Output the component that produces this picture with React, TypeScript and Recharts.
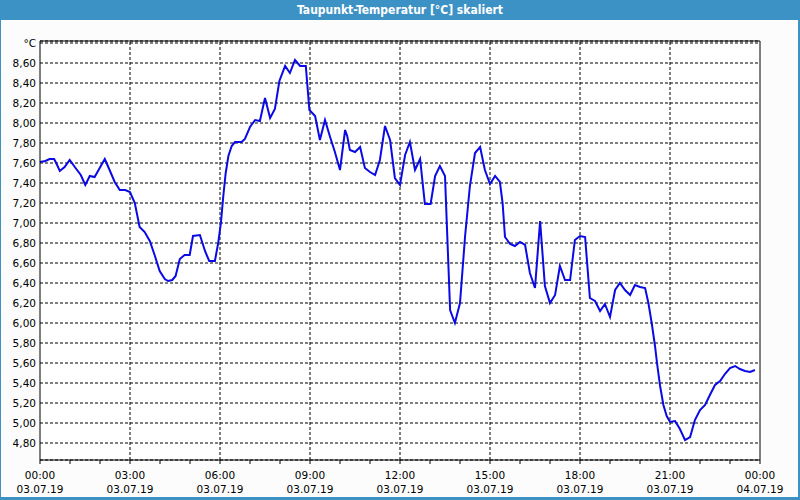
import { LineChart, Line, XAxis, YAxis, CartesianGrid, ReferenceLine } from 'recharts';

const hours = [
  0, 0.18, 0.32, 0.47, 0.54, 0.66, 0.82, 0.99, 1.16, 1.36, 1.51, 1.66, 1.82, 1.99, 2.16, 2.32, 2.49, 2.66, 2.84, 3.0,
  3.16, 3.32, 3.49, 3.66, 3.82, 3.99, 4.16, 4.27, 4.41, 4.52, 4.66, 4.82, 4.99, 5.1, 5.33, 5.5, 5.64, 5.83, 5.94, 6.03,
  6.11, 6.19, 6.28, 6.39, 6.5, 6.72, 6.83, 7.0, 7.17, 7.33, 7.5, 7.67, 7.83, 7.98, 8.17, 8.33, 8.5, 8.67, 8.86, 8.98,
  9.17, 9.33, 9.5, 9.67, 9.83, 10.0, 10.17, 10.24, 10.33, 10.5, 10.67, 10.83, 11.0, 11.17, 11.33, 11.5, 11.67, 11.83, 12.0, 12.17,
  12.33, 12.5, 12.67, 12.83, 13.02, 13.17, 13.33, 13.5, 13.67, 13.83, 14.0, 14.17, 14.33, 14.5, 14.67, 14.83, 15.0, 15.17, 15.33, 15.42,
  15.5, 15.67, 15.83, 16.0, 16.17, 16.33, 16.5, 16.67, 16.83, 17.0, 17.17, 17.33, 17.5, 17.67, 17.83, 18.0, 18.17, 18.33, 18.5, 18.67,
  18.83, 19.0, 19.17, 19.33, 19.5, 19.67, 19.83, 20.0, 20.17, 20.28, 20.39, 20.5, 20.58, 20.67, 20.78, 20.89, 21.0, 21.17, 21.33, 21.5,
  21.67, 21.83, 22.0, 22.17, 22.33, 22.5, 22.67, 22.83, 23.0, 23.17, 23.33, 23.5, 23.67, 23.83,
];

const dewPoint = [
  7.61, 7.62, 7.64, 7.64, 7.6, 7.52, 7.56, 7.63, 7.56, 7.48, 7.38, 7.47, 7.46, 7.55, 7.64, 7.53, 7.41, 7.33, 7.33, 7.31,
  7.2, 6.96, 6.91, 6.82, 6.68, 6.52, 6.44, 6.42, 6.43, 6.47, 6.64, 6.68, 6.68, 6.87, 6.88, 6.72, 6.62, 6.62, 6.8, 7.0,
  7.27, 7.5, 7.67, 7.77, 7.81, 7.81, 7.84, 7.96, 8.03, 8.02, 8.25, 8.05, 8.14, 8.42, 8.57, 8.5, 8.63, 8.57, 8.57, 8.13,
  8.07, 7.83, 8.03, 7.86, 7.71, 7.53, 7.93, 7.87, 7.73, 7.71, 7.76, 7.55, 7.51, 7.48, 7.63, 7.97, 7.83, 7.45, 7.38, 7.68,
  7.81, 7.53, 7.64, 7.19, 7.19, 7.47, 7.57, 7.47, 6.13, 6.0, 6.2, 6.87, 7.37, 7.7, 7.76, 7.53, 7.39, 7.47, 7.41, 7.2,
  6.86, 6.79, 6.77, 6.81, 6.78, 6.5, 6.35, 7.02, 6.37, 6.2, 6.28, 6.57, 6.43, 6.43, 6.83, 6.87, 6.86, 6.25, 6.22, 6.12,
  6.19, 6.06, 6.33, 6.4, 6.33, 6.28, 6.38, 6.36, 6.35, 6.2, 6.0, 5.77, 5.57, 5.37, 5.18, 5.07, 5.01, 5.02, 4.94, 4.83,
  4.86, 5.03, 5.13, 5.18, 5.28, 5.38, 5.42, 5.49, 5.55, 5.57, 5.54, 5.52, 5.51, 5.53,
];

const hourTicks = Array.from({ length: 25 }, (_, i) => i);
const gridHours = [3, 6, 9, 12, 15, 18, 21];
const yTicks = [4.8, 5.0, 5.2, 5.4, 5.6, 5.8, 6.0, 6.2, 6.4, 6.6, 6.8, 7.0, 7.2, 7.4, 7.6, 7.8, 8.0, 8.2, 8.4, 8.6, 8.8];
const yMin = 4.63;
const yMax = 8.82;

const data = hours.map((h, i) => ({ h, v: dewPoint[i] }));

const font = "Tahoma, 'DejaVu Sans', sans-serif";
const dash = '3 2';

function TimeTick(props: any) {
  const { x, y, payload } = props;
  const h = payload?.value ?? 0;
  if (h % 3 !== 0) return null;
  const time = String(h % 24).padStart(2, '0') + ':00';
  const date = h >= 24 ? '04.07.19' : '03.07.19';
  return (
    <g>
      <text x={x} y={y + 13} textAnchor="middle" fontSize={10.5} fontFamily={font} fill="#000">{time}</text>
      <text x={x} y={y + 27} textAnchor="middle" fontSize={10.5} fontFamily={font} fill="#000">{date}</text>
    </g>
  );
}

const fmtY = (v: number) => (v > 8.79 ? '°C' : v.toFixed(2).replace('.', ','));

export default function App() {
  return (
    <div style={{ position: 'absolute', left: 0, top: 0, width: 800, height: 500, background: '#3d92c5', fontFamily: font }}>
      <div
        style={{
          position: 'absolute', left: 0, top: 0, width: 800, height: 20, color: '#fff', fontWeight: 'bold',
          fontSize: 12, lineHeight: '20px', textAlign: 'center',
          fontFamily: "'Liberation Sans Narrow', 'DejaVu Sans Condensed', sans-serif",
        }}
      >
        Taupunkt-Temperatur [°C] skaliert
      </div>
      <div style={{ position: 'absolute', left: 1, top: 20, width: 797, height: 477, background: '#fbfcfb' }} />
      <div style={{ position: 'absolute', left: 0, top: 0 }}>
        <LineChart width={800} height={500} data={data} margin={{ top: 41, right: 40, bottom: 0, left: 0 }}>
          <CartesianGrid vertical={false} stroke="#000" strokeDasharray={dash} fill="#fff" fillOpacity={1} />
          {gridHours.map((g) => (
            <ReferenceLine key={g} x={g} stroke="#000" strokeDasharray={dash} />
          ))}
          <ReferenceLine y={yMax} stroke="#000" />
          <ReferenceLine x={24} stroke="#000" />
          <XAxis
            dataKey="h"
            type="number"
            domain={[0, 24]}
            ticks={hourTicks}
            interval={0}
            height={40}
            tickSize={4}
            tickMargin={2}
            axisLine={{ stroke: '#000' }}
            tickLine={{ stroke: '#000' }}
            tick={<TimeTick />}
          />
          <YAxis
            type="number"
            domain={[yMin, yMax]}
            ticks={yTicks}
            interval={0}
            width={40}
            tickSize={0}
            tickMargin={4}
            tickLine={false}
            axisLine={{ stroke: '#000' }}
            tickFormatter={fmtY}
            tick={{ fontSize: 10.5, fontFamily: font, fill: '#000' }}
          />
          <Line type="linear" dataKey="v" stroke="#0a0ae6" strokeWidth={2} dot={false} isAnimationActive={false} />
        </LineChart>
      </div>
    </div>
  );
}
